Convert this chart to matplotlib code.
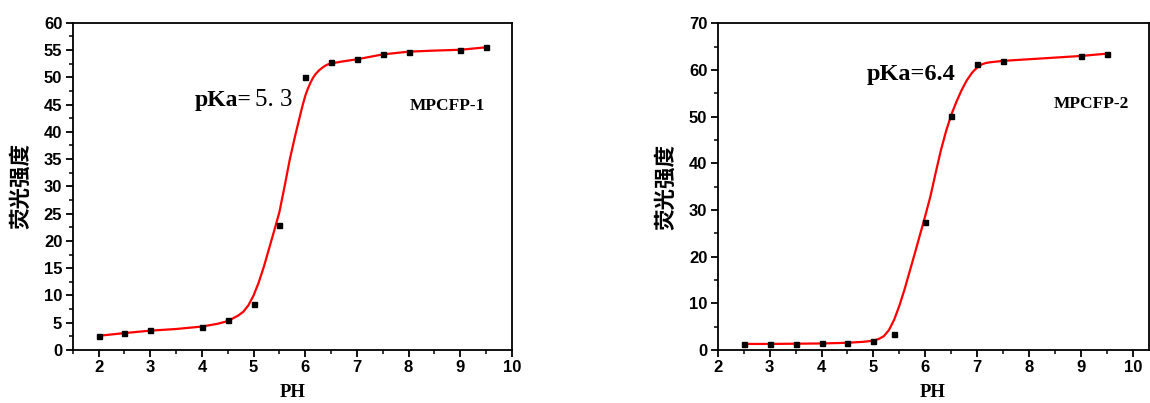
import matplotlib
matplotlib.use('Agg')
import matplotlib.pyplot as plt
from matplotlib.ticker import MultipleLocator

# measured points
ph1 = [2, 2.5, 3, 4, 4.5, 5, 5.5, 6, 6.5, 7, 7.5, 8, 9, 9.5]
fl1 = [2.6, 3.2, 3.6, 4.2, 5.5, 8.5, 23.0, 50.0, 52.8, 53.3, 54.2, 54.7, 55.0, 55.5]
ph2 = [2.5, 3, 3.5, 4, 4.5, 5, 5.4, 6, 6.5, 7, 7.5, 9, 9.5]
fl2 = [1.3, 1.3, 1.3, 1.4, 1.5, 1.9, 3.5, 27.5, 50.2, 61.3, 62.0, 63.0, 63.5]

# fitted curves
fit_x1 = [2.0, 2.5, 3.0, 3.5, 4.0, 4.3, 4.5, 4.7, 4.8, 4.9, 5.0, 5.1, 5.2, 5.3, 5.4,
          5.5, 5.6, 5.7, 5.8, 5.9, 5.95, 6.0, 6.05, 6.1, 6.15, 6.2, 6.27, 6.35, 6.42,
          6.5, 6.75, 7.0, 7.5, 8.0, 8.5, 9.0, 9.5]
fit_y1 = [2.6, 3.1, 3.55, 3.85, 4.3, 4.8, 5.3, 6.3, 7.0, 8.2, 10.0, 12.4, 15.3, 18.6,
          21.9, 25.3, 30.0, 34.9, 39.1, 43.0, 44.9, 46.6, 47.9, 49.0, 49.9, 50.6,
          51.3, 51.9, 52.3, 52.55, 52.95, 53.3, 54.2, 54.7, 54.9, 55.05, 55.5]
fit_x2 = [2.5, 3.0, 3.5, 4.0, 4.5, 4.8, 5.0, 5.1, 5.2, 5.3, 5.4, 5.5, 5.6, 5.7, 5.8,
          5.9, 6.0, 6.1, 6.2, 6.3, 6.4, 6.5, 6.6, 6.7, 6.8, 6.9, 6.95, 7.0, 7.05,
          7.1, 7.17, 7.25, 7.5, 8.0, 8.5, 9.0, 9.5]
fit_y2 = [1.3, 1.3, 1.35, 1.4, 1.55, 1.75, 2.0, 2.35, 2.95, 4.3, 6.5, 9.5, 13.0,
          16.9, 20.8, 24.8, 28.8, 33.0, 38.0, 42.8, 46.9, 50.4, 53.2, 55.7, 57.8,
          59.4, 60.0, 60.5, 60.95, 61.25, 61.5, 61.65, 61.95, 62.3, 62.65, 63.0, 63.5]

fig = plt.figure(figsize=(11.5, 4.03), dpi=100)
ax1 = fig.add_axes([0.0632, 0.1315, 0.382, 0.812])
ax2 = fig.add_axes([0.6241, 0.1315, 0.3746, 0.8107])

cjk = ['Noto Sans CJK SC', 'DejaVu Sans']

def style(ax, xlim, ylim, ymaj, ymin):
    ax.set_xlim(*xlim)
    ax.set_ylim(*ylim)
    ax.xaxis.set_major_locator(MultipleLocator(1))
    ax.xaxis.set_minor_locator(MultipleLocator(0.5))
    ax.yaxis.set_major_locator(MultipleLocator(ymaj))
    ax.yaxis.set_minor_locator(MultipleLocator(ymin))
    ax.tick_params(which='major', direction='out', length=5, width=1.3, pad=2.5)
    ax.tick_params(which='minor', direction='out', length=3, width=1.1)
    for sp in ax.spines.values():
        sp.set_linewidth(1.3)
    for lab in ax.get_xticklabels() + ax.get_yticklabels():
        lab.set_fontfamily('Liberation Sans')
        lab.set_fontweight('bold')
        lab.set_fontsize(12)
    ax.set_xlabel('PH', family='Liberation Serif', weight='bold', fontsize=13.5, labelpad=6)
    ax.set_ylabel('荧光强度', family=cjk, weight='bold', fontsize=15.5, labelpad=9)

ax1.plot(fit_x1, fit_y1, color='red', lw=1.6, zorder=2)
ax1.plot(ph1, fl1, 's', color='black', ms=3.6, zorder=3)
style(ax1, (1.5, 10), (0, 60), 5, 2.5)
ax1.text(3.866, 44.7, 'pKa=', family='Liberation Serif', weight='bold', fontsize=17)
ax1.text(5.03, 44.7, '5. 3', family='Liberation Serif', fontsize=18)
ax1.text(8.02, 44.0, 'MPCFP-1', family='Liberation Serif', weight='bold', fontsize=12.5)

ax2.plot(fit_x2, fit_y2, color='red', lw=1.6, zorder=2)
ax2.plot(ph2, fl2, 's', color='black', ms=3.6, zorder=3)
style(ax2, (2, 10.3), (0, 70), 10, 5)
ax2.text(4.87, 57.9, 'pKa=6.4', family='Liberation Serif', weight='bold', fontsize=17.5)
ax2.text(8.47, 51.8, 'MPCFP-2', family='Liberation Serif', weight='bold', fontsize=12.5)

fig.savefig('out.png', dpi=100)
